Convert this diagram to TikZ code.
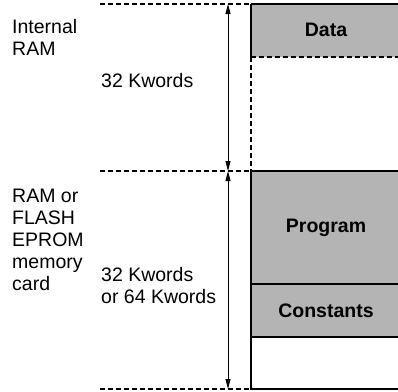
\documentclass[tikz,border=0pt]{standalone}
\usepackage{fontspec}
\setmainfont{Liberation Sans}
\usetikzlibrary{arrows.meta}
\definecolor{blockgray}{RGB}{180,180,180}
\begin{document}
\begin{tikzpicture}[x=1pt,y=-1pt,
  lbl/.style={font=\fontsize{19.5}{22}\selectfont, align=left, anchor=base west, inner sep=0pt},
  blk/.style={font=\fontsize{19.5}{22}\selectfont\bfseries, inner sep=0pt},
  guide/.style={line width=1.3pt, dash pattern=on 5pt off 3pt},
  rule/.style={line width=1.3pt},
  dim/.style={line width=1pt, {Triangle[length=10pt,width=5pt]}-{Triangle[length=10pt,width=5pt]}},
]
\useasboundingbox (0,0) rectangle (398,391);

% memory map columns
\fill[blockgray] (251,4) rectangle (400,57);
\fill[blockgray] (251,171) rectangle (400,337);

% boundaries of the two address ranges
\coordinate (t0) at (100,4);   \coordinate (t1) at (251,4);
\coordinate (m0) at (100,171); \coordinate (m1) at (251,171);
\coordinate (b0) at (100,389); \coordinate (b1) at (251,389);
\coordinate (r0) at (400,4);   \coordinate (r1) at (400,171);
\coordinate (r2) at (400,389);
\coordinate (d0) at (251,57);  \coordinate (d1) at (400,57);
\coordinate (p0) at (251,284); \coordinate (p1) at (400,284);
\coordinate (c0) at (251,337); \coordinate (c1) at (400,337);

\draw[guide] (t0) -- (t1);
\draw[guide] (m0) -- (m1);
\draw[guide] (b0) -- (b1);

\draw[rule] (t1) -- (r0);
\draw[rule] (t1) -- (d0);
\draw[guide] (d0) -- (d1);
\draw[guide] (d0) -- (m1);
\draw[rule] (m1) -- (r1);
\draw[rule] (m1) -- (b1) -- (r2);
\draw[rule] (p0) -- (p1);
\draw[rule] (c0) -- (c1);

% size arrows
\coordinate (a0) at (228,4);
\coordinate (a1) at (228,171);
\coordinate (a2) at (228,389);
\draw[dim] (a0) -- (a1);
\draw[dim] (a1) -- (a2);

% block names
\node[blk] (data) at (326,30) {Data};
\node[blk] (prog) at (326,228) {Program};
\node[blk] (const) at (326,311) {Constants};

% range descriptions (anchored at the baseline of the last line)
\node[lbl] (iram) at (12,55) {Internal\\RAM};
\node[lbl] (isize) at (101,87) {32 Kwords};
\node[lbl] (card) at (12,290) {RAM or\\FLASH\\EPROM\\memory\\card};
\node[lbl] (csize) at (101,303) {32 Kwords\\or 64 Kwords};
\end{tikzpicture}
\end{document}
